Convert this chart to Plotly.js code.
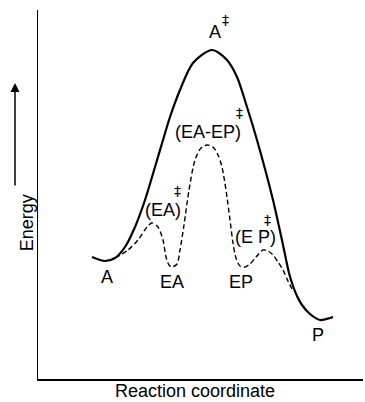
<!DOCTYPE html>
<html>
<head>
<meta charset="utf-8">
<script src="https://cdn.plot.ly/plotly-3.0.1.min.js"></script>
<style>html,body{margin:0;padding:0;background:#fff;}#chart{width:365px;height:402px;}</style>
</head>
<body>
<div id="chart"></div>
<script>
// Uncatalysed path (solid): reaction coordinate vs energy (arbitrary units)
var uncatX = [54, 67, 77, 87, 97, 107, 117, 125, 132, 142, 155, 174, 189, 199, 209, 219, 235, 245, 251, 255, 259, 264, 272, 282, 292, 295];
var uncatY = [122, 118, 121, 132, 152, 179, 212, 239, 262, 289, 316, 329, 319, 302, 272, 239, 179, 134, 106, 93, 83, 74, 65, 59, 61, 62];
// Enzyme-catalysed path (dashed)
var catX = [77, 90, 100, 109, 114, 120, 125, 128, 131, 134, 139, 142, 146, 151, 157, 163, 169, 175, 180, 184, 189, 192, 195, 198, 202, 207, 212, 218, 225, 230, 235, 240, 245, 250, 254];
var catY = [121, 129, 139, 152, 156, 152, 139, 122, 114, 112, 115, 129, 154, 189, 219, 231, 234, 232, 224, 212, 182, 159, 136, 121, 113, 112, 115, 122, 129, 128, 124, 117, 109, 98, 90];
// State labels
var labelText = ["A", "EA", "EP", "P", "A", "(EA-EP)", "(EA)", "(E P)"];
var labelX = [69, 134, 203, 280, 177, 170, 125, 217];
var labelY = [102, 97, 97, 44, 347, 247, 169, 142];
// Transition-state marks
var daggerX = [187, 201, 139, 229];
var daggerY = [359, 266, 188, 159];

var font = {family: "Liberation Sans, Arial, sans-serif", size: 18, color: "#000"};
var annotations = [];
for (var i = 0; i < labelText.length; i++) {
  annotations.push({x: labelX[i], y: labelY[i], xref: "x", yref: "y", text: labelText[i], showarrow: false, borderpad: 0, font: font});
}
for (var j = 0; j < daggerX.length; j++) {
  annotations.push({x: daggerX[j], y: daggerY[j], xref: "x", yref: "y", text: "‡", showarrow: false, borderpad: 0,
    font: {family: "DejaVu Sans, sans-serif", size: 14, color: "#000"}});
}
annotations.push({x: 0.483, y: -0.0623, xref: "paper", yref: "paper", yanchor: "bottom", borderpad: 0, text: "Reaction coordinate", showarrow: false, font: font});
annotations.push({x: -0.0708, y: 0.425, xref: "paper", yref: "paper", text: "Energy", textangle: -90, showarrow: false, font: font});
annotations.push({x: -0.0708, y: 0.802, xref: "paper", yref: "paper", text: "", showarrow: true, arrowhead: 2, arrowsize: 1.2, arrowwidth: 1.5, arrowcolor: "#000", ax: 0, ay: 104, standoff: 0});

var traces = [
  {x: uncatX, y: uncatY, mode: "lines", line: {color: "#000", width: 2.2, shape: "spline", smoothing: 0.8}, hoverinfo: "skip"},
  {x: catX, y: catY, mode: "lines", line: {color: "#000", width: 1.4, shape: "spline", smoothing: 0.8, dash: "5px,3px"}, hoverinfo: "skip"}
];

var layout = {
  width: 365, height: 402,
  margin: {l: 38, r: 2, t: 10, b: 23},
  paper_bgcolor: "#fff", plot_bgcolor: "#fff",
  showlegend: false,
  xaxis: {range: [0, 325], showline: true, linecolor: "#000", linewidth: 1.5, showgrid: false, zeroline: false, showticklabels: false, ticks: "", fixedrange: true},
  yaxis: {range: [0, 369], showline: true, linecolor: "#000", linewidth: 1.5, showgrid: false, zeroline: false, showticklabels: false, ticks: "", fixedrange: true},
  annotations: annotations
};
Plotly.newPlot("chart", traces, layout, {displayModeBar: false, staticPlot: true});
</script>
</body>
</html>
